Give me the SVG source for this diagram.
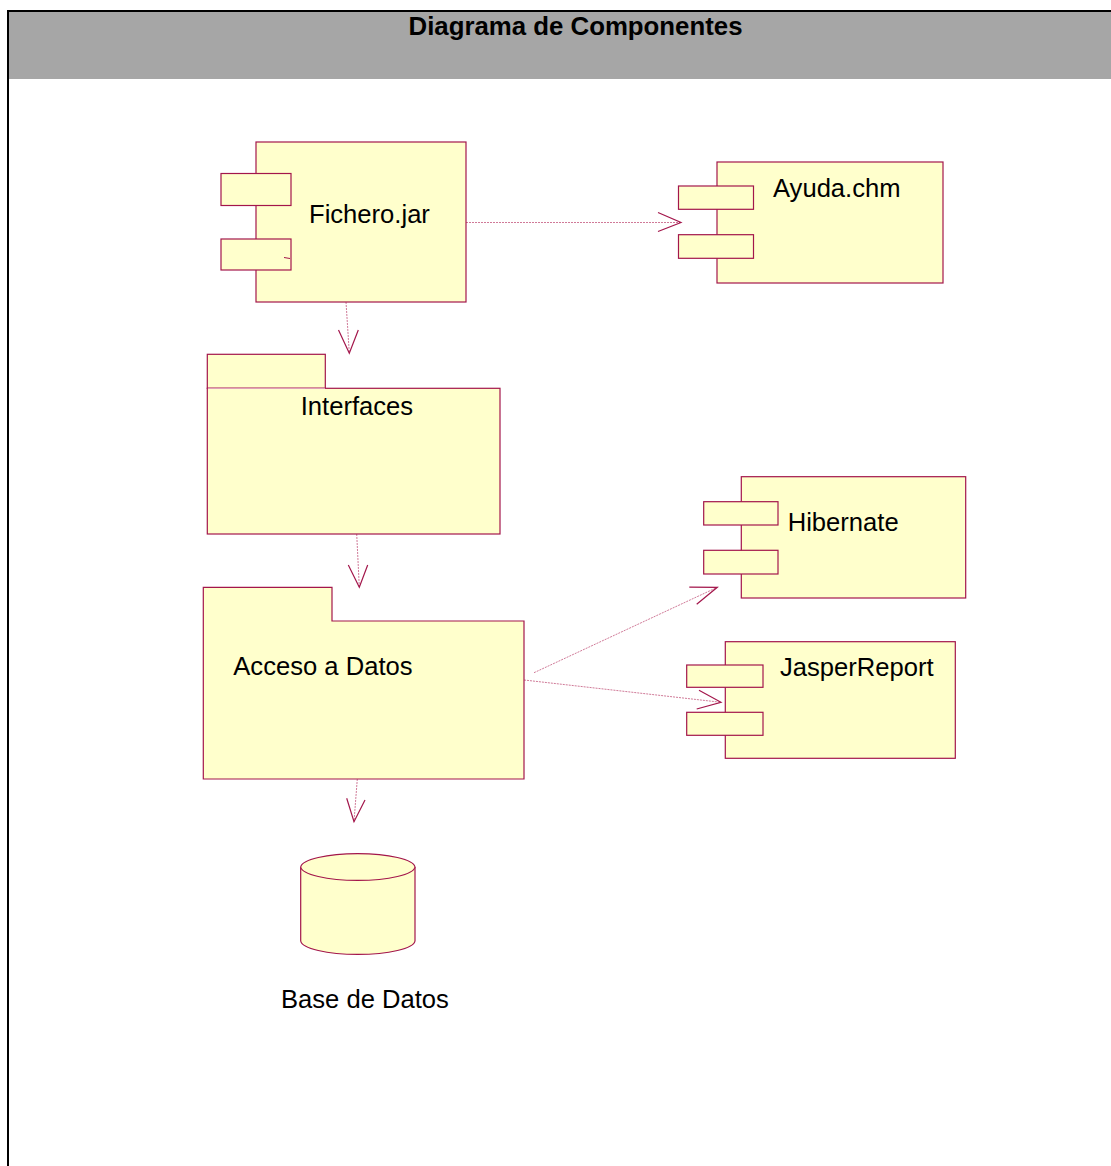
<svg xmlns="http://www.w3.org/2000/svg" width="1111" height="1166" viewBox="0 0 1111 1166">
  <style>
    .shape { fill: #ffffcc; stroke: #a3164b; stroke-width: 1.2; }
    .lbl { font-family: "Liberation Sans", Arial, sans-serif; font-size: 25.6px; fill: #000; }
    .title { font-family: "Liberation Sans", Arial, sans-serif; font-size: 25.8px; font-weight: bold; fill: #000; }
    .dep { fill: none; stroke: #d07a98; stroke-width: 1; stroke-dasharray: 2 1; }
    .head { fill: none; stroke: #a3164b; stroke-width: 1.2; }
  </style>

  <!-- frame and header band -->
  <g id="frame">
    <rect x="0" y="0" width="1111" height="1166" fill="#ffffff"/>
    <rect x="9" y="12" width="1102" height="67" fill="#a6a6a6"/>
    <line x1="7" y1="11" x2="1111" y2="11" stroke="#000" stroke-width="2"/>
    <line x1="8" y1="10" x2="8" y2="1166" stroke="#000" stroke-width="2"/>
    <text class="title" x="575.5" y="35" text-anchor="middle">Diagrama de Componentes</text>
  </g>

  <!-- dependencies -->
  <g id="connectors">
    <line class="dep" x1="466" y1="222.5" x2="681" y2="222.5"/>
    <path class="head" d="M658,212.5 L681,222.5 L658,231.5"/>

    <line class="dep" x1="346" y1="302" x2="349.3" y2="353"/>
    <path class="head" d="M338.5,330 L349.3,353.3 L358.3,330"/>

    <line class="dep" x1="356.7" y1="534" x2="359.3" y2="587"/>
    <path class="head" d="M348.3,565 L359.3,587.3 L367.7,565"/>

    <line class="dep" x1="534" y1="672.7" x2="717.3" y2="587.3"/>
    <path class="head" d="M689.3,587.2 L717.3,587.3 L696.7,604.3"/>

    <line class="dep" x1="524" y1="680" x2="721" y2="702.3"/>
    <path class="head" d="M699,690.3 L721,702.3 L696.7,709"/>

    <line class="dep" x1="357.3" y1="779" x2="354" y2="821.7"/>
    <path class="head" d="M346.7,798.3 L354,821.7 L365,800"/>
  </g>

  <!-- Fichero.jar component -->
  <g id="fichero">
    <rect class="shape" x="256" y="142" width="210" height="160"/>
    <rect class="shape" x="221" y="173.5" width="70" height="32"/>
    <rect class="shape" x="221" y="239" width="70" height="31"/>
    <line x1="284" y1="257.5" x2="290" y2="258.5" stroke="#a3164b" stroke-width="1"/>
    <text class="lbl" x="309" y="223">Fichero.jar</text>
  </g>

  <!-- Ayuda.chm component -->
  <g id="ayuda">
    <rect class="shape" x="717" y="162" width="226" height="121"/>
    <rect class="shape" x="678.5" y="186" width="75" height="23.3"/>
    <rect class="shape" x="678.5" y="234.7" width="75" height="23.6"/>
    <text class="lbl" x="773" y="197">Ayuda.chm</text>
  </g>

  <!-- Interfaces package -->
  <g id="interfaces">
    <rect class="shape" x="207.3" y="354.3" width="118" height="34"/>
    <rect class="shape" x="207.3" y="388.3" width="292.7" height="145.7"/>
    <line x1="207.9" y1="388.3" x2="325" y2="388.3" stroke="#e0a0b8" stroke-width="1.2"/>
    <text class="lbl" x="300.7" y="415">Interfaces</text>
  </g>

  <!-- Acceso a Datos package -->
  <g id="acceso">
    <path class="shape" d="M203.3,587.3 H332 V621 H524 V779 H203.3 Z"/>
    <text class="lbl" x="233.3" y="675">Acceso a Datos</text>
  </g>

  <!-- Hibernate component -->
  <g id="hibernate">
    <rect class="shape" x="741.3" y="476.7" width="224.4" height="121.3"/>
    <rect class="shape" x="703.7" y="501.7" width="74.3" height="23.3"/>
    <rect class="shape" x="703.7" y="550.3" width="74.3" height="23.7"/>
    <text class="lbl" x="787.7" y="531">Hibernate</text>
  </g>

  <!-- JasperReport component -->
  <g id="jasper">
    <rect class="shape" x="725.3" y="641.7" width="230" height="116.6"/>
    <rect class="shape" x="686.7" y="665" width="76.3" height="22.3"/>
    <rect class="shape" x="686.7" y="712.3" width="76.3" height="23"/>
    <text class="lbl" x="780" y="675.5">JasperReport</text>
  </g>

  <!-- Base de Datos store -->
  <g id="basedatos">
    <path class="shape" d="M300.7,867 A57.2,14 0 0 1 415,867 V941 A57.2,14 0 0 1 300.7,941 Z"/>
    <path class="shape" d="M300.7,867 A57.2,14 0 0 0 415,867"/>
    <text class="lbl" x="281" y="1007.5">Base de Datos</text>
  </g>
</svg>
